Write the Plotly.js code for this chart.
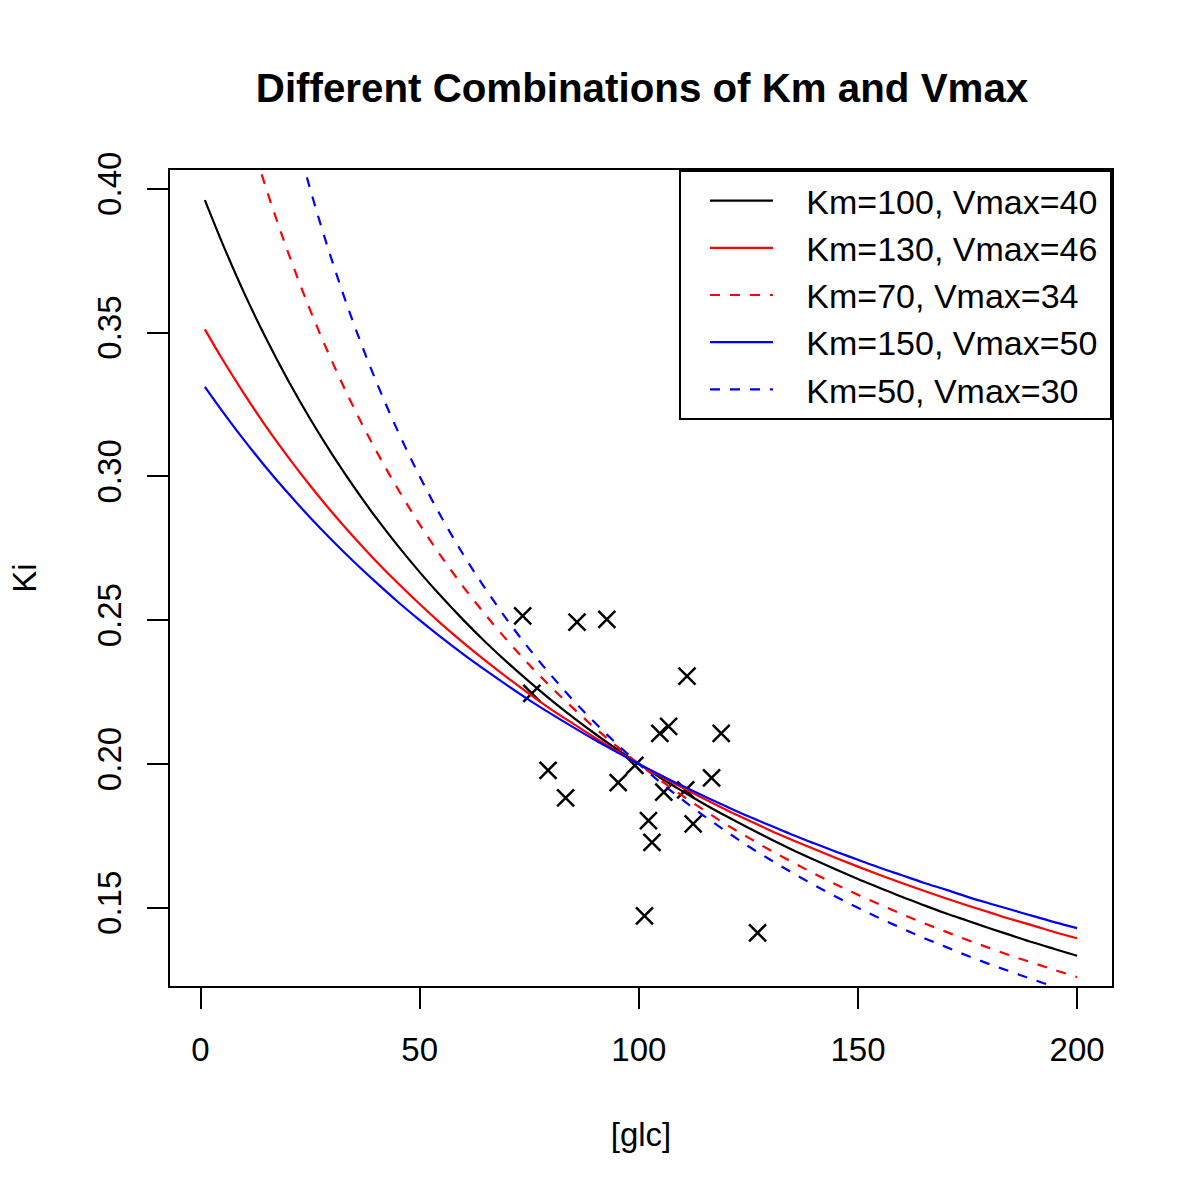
<!DOCTYPE html>
<html>
<head>
<meta charset="utf-8">
<script src="https://cdn.plot.ly/plotly-3.0.1.min.js"></script>
<style>html,body{margin:0;padding:0;background:#fff;}#chart{width:1200px;height:1200px;}</style>
</head>
<body>
<div id="chart"></div>
<script>
// Curve sample positions ([glc]) and Ki values
const glc = [1, 5, 10, 15, 20, 25, 30, 35, 40, 45, 50, 55, 60, 65, 70, 75, 80, 85, 90, 95, 100,
             105, 110, 115, 120, 125, 130, 135, 140, 145, 150, 155, 160, 165, 170, 175, 180, 185, 190, 195, 200];
const kiKm100V40 = [0.3960, 0.3810, 0.3636, 0.3478, 0.3333, 0.3200, 0.3077, 0.2963, 0.2857, 0.2759, 0.2667,
                    0.2581, 0.2500, 0.2424, 0.2353, 0.2286, 0.2222, 0.2162, 0.2105, 0.2051, 0.2000,
                    0.1951, 0.1905, 0.1860, 0.1818, 0.1778, 0.1739, 0.1702, 0.1667, 0.1633, 0.1600,
                    0.1569, 0.1538, 0.1509, 0.1481, 0.1455, 0.1429, 0.1404, 0.1379, 0.1356, 0.1333];
const kiKm130V46 = [0.3511, 0.3407, 0.3286, 0.3172, 0.3067, 0.2968, 0.2875, 0.2788, 0.2706, 0.2629, 0.2556,
                    0.2486, 0.2421, 0.2359, 0.2300, 0.2244, 0.2190, 0.2140, 0.2091, 0.2044, 0.2000,
                    0.1957, 0.1917, 0.1878, 0.1840, 0.1804, 0.1769, 0.1736, 0.1704, 0.1673, 0.1643,
                    0.1614, 0.1586, 0.1559, 0.1533, 0.1508, 0.1484, 0.1460, 0.1438, 0.1415, 0.1394];
const kiKm70V34  = [0.4789, 0.4533, 0.4250, 0.4000, 0.3778, 0.3579, 0.3400, 0.3238, 0.3091, 0.2957, 0.2833,
                    0.2720, 0.2615, 0.2519, 0.2429, 0.2345, 0.2267, 0.2194, 0.2125, 0.2061, 0.2000,
                    0.1943, 0.1889, 0.1838, 0.1789, 0.1744, 0.1700, 0.1659, 0.1619, 0.1581, 0.1545,
                    0.1511, 0.1478, 0.1447, 0.1417, 0.1388, 0.1360, 0.1333, 0.1308, 0.1283, 0.1259];
const kiKm150V50 = [0.3311, 0.3226, 0.3125, 0.3030, 0.2941, 0.2857, 0.2778, 0.2703, 0.2632, 0.2564, 0.2500,
                    0.2439, 0.2381, 0.2326, 0.2273, 0.2222, 0.2174, 0.2128, 0.2083, 0.2041, 0.2000,
                    0.1961, 0.1923, 0.1887, 0.1852, 0.1818, 0.1786, 0.1754, 0.1724, 0.1695, 0.1667,
                    0.1639, 0.1613, 0.1587, 0.1563, 0.1538, 0.1515, 0.1493, 0.1471, 0.1449, 0.1429];
const kiKm50V30  = [0.5882, 0.5455, 0.5000, 0.4615, 0.4286, 0.4000, 0.3750, 0.3529, 0.3333, 0.3158, 0.3000,
                    0.2857, 0.2727, 0.2609, 0.2500, 0.2400, 0.2308, 0.2222, 0.2143, 0.2069, 0.2000,
                    0.1935, 0.1875, 0.1818, 0.1765, 0.1714, 0.1667, 0.1622, 0.1579, 0.1538, 0.1500,
                    0.1463, 0.1429, 0.1395, 0.1364, 0.1333, 0.1304, 0.1277, 0.1250, 0.1224, 0.1200];

const seriesNames = ["Km=100, Vmax=40", "Km=130, Vmax=46", "Km=70, Vmax=34", "Km=150, Vmax=50", "Km=50, Vmax=30"];

// Observed points
const obsGlc = [73.5, 85.9, 92.7, 111.0, 75.6, 104.8, 106.8, 118.8, 99.1, 79.3, 95.3, 116.6, 110.7, 105.7, 83.3, 102.2, 112.4, 103.0, 101.3, 127.1];
const obsKi  = [0.2515, 0.2493, 0.2503, 0.2305, 0.2245, 0.2106, 0.2131, 0.2106, 0.1995, 0.1978, 0.1935, 0.1952, 0.1910, 0.1902, 0.1882, 0.1803, 0.1792, 0.1727, 0.1472, 0.1413];

const xTicks = [0, 50, 100, 150, 200];
const yTicks = [0.15, 0.20, 0.25, 0.30, 0.35, 0.40];
const yTickText = ["0.15", "0.20", "0.25", "0.30", "0.35", "0.40"];

const FONT = "Liberation Sans, Arial, Helvetica, sans-serif";
const LW = 2.2;
const PAD = "&nbsp;&nbsp;&nbsp;";
const TAIL = "\u2009";

function curve(y, name, color, dash) {
  return {
    x: glc, y: y, name: PAD + name + TAIL, type: "scatter", mode: "lines",
    line: {color: color, width: LW, dash: dash, shape: "spline", smoothing: 1}
  };
}

const traces = [
  {x: obsGlc, y: obsKi, type: "scatter", mode: "markers", showlegend: false,
   marker: {symbol: "x-thin-open", size: 17, color: "black", line: {color: "black", width: 2.5}}},
  curve(kiKm100V40, seriesNames[0], "black", "solid"),
  curve(kiKm130V46, seriesNames[1], "#ff0000", "solid"),
  curve(kiKm70V34, seriesNames[2], "#ff0000", "10px,10px"),
  curve(kiKm150V50, seriesNames[3], "#0000ff", "solid"),
  curve(kiKm50V30, seriesNames[4], "#0000ff", "10px,10px")
];

const layout = {
  width: 1200, height: 1200,
  margin: {l: 170, r: 88, t: 170, b: 214},
  paper_bgcolor: "white", plot_bgcolor: "white",
  font: {family: FONT, size: 33, color: "black"},
  title: {text: "<b>Different Combinations of Km and Vmax</b>", font: {family: FONT, size: 40.3, color: "black"},
          x: 0.535, xref: "container", xanchor: "center", y: 1 - 88/1200, yref: "container", yanchor: "middle"},
  xaxis: {
    range: [-6.96, 207.96], tickmode: "array", tickvals: xTicks,
    ticks: "outside", ticklen: 21, tickwidth: 2, tickcolor: "black", ticklabelstandoff: 12,
    showline: true, linewidth: 2, linecolor: "black", mirror: true,
    showgrid: false, zeroline: false,
    tickfont: {family: FONT, size: 33, color: "black"},
    title: {text: "[glc]", font: {family: FONT, size: 33, color: "black"}, standoff: 56}
  },
  yaxis: {
    range: [0.1228, 0.4065], tickmode: "array", tickvals: yTicks, ticktext: yTickText,
    ticks: "outside", ticklen: 21, tickwidth: 2, tickcolor: "black", tickangle: -90, ticklabelstandoff: 13,
    showline: true, linewidth: 2, linecolor: "black", mirror: true,
    showgrid: false, zeroline: false,
    tickfont: {family: FONT, size: 33, color: "black"},
    title: {text: "Ki", font: {family: FONT, size: 33, color: "black"}, standoff: 44}
  },
  legend: {
    x: 1, xanchor: "right", y: 1, yanchor: "top",
    bgcolor: "white", bordercolor: "black", borderwidth: 2,
    font: {family: FONT, size: 34, color: "black"},
    itemwidth: 63, indentation: 24, tracegroupgap: 0
  },
  showlegend: true
};

Plotly.newPlot("chart", traces, layout, {displayModeBar: false, staticPlot: true});
</script>
</body>
</html>
